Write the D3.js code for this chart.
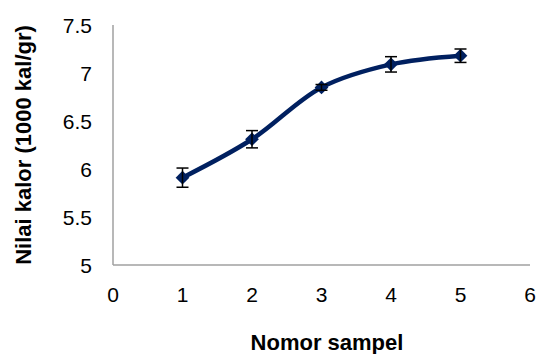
<!DOCTYPE html>
<html>
<head>
<meta charset="utf-8">
<script src="https://cdn.jsdelivr.net/npm/d3@7"></script>
<style>
  body { margin: 0; background: #fff; }
  svg { display: block; font-family: "Liberation Sans", Arial, sans-serif; }
</style>
</head>
<body>
<svg id="chart" width="539" height="354"></svg>
<script>
// data
var samples = [1, 2, 3, 4, 5];
var kalor = [5.91, 6.31, 6.85, 7.09, 7.18];
var errs = [0.10, 0.09, 0.03, 0.08, 0.07];
var xTicks = [0, 1, 2, 3, 4, 5, 6];
var yTicks = [5, 5.5, 6, 6.5, 7, 7.5];

var svg = d3.select('#chart');

var x = d3.scaleLinear().domain([0, 6]).range([113, 530]);
var y = d3.scaleLinear().domain([5, 7.5]).range([265, 25]);

// axes lines
svg.append('line')
    .attr('x1', x(0)).attr('x2', x(0))
    .attr('y1', y(7.5)).attr('y2', y(5))
    .attr('stroke', '#a0a0a0').attr('stroke-width', 1.5);
svg.append('line')
    .attr('x1', x(0)).attr('x2', x(6))
    .attr('y1', y(5)).attr('y2', y(5))
    .attr('stroke', '#a0a0a0').attr('stroke-width', 1.5);

// tick labels
svg.selectAll('.ytick')
    .data(yTicks)
    .enter()
    .append('text')
    .attr('class', 'ytick')
    .attr('x', 92)
    .attr('y', function(d) { return y(d) + 8 })
    .attr('text-anchor', 'end')
    .style('font-size', '21px')
    .text(function(d) { return d });

svg.selectAll('.xtick')
    .data(xTicks)
    .enter()
    .append('text')
    .attr('class', 'xtick')
    .attr('x', function(d) { return x(d) })
    .attr('y', 302)
    .attr('text-anchor', 'middle')
    .style('font-size', '21px')
    .text(function(d) { return d });

// axis titles
svg.append('text')
    .attr('transform', 'translate(31,145) rotate(-90)')
    .attr('text-anchor', 'middle')
    .style('font-size', '22px')
    .style('font-weight', 'bold')
    .text('Nilai kalor (1000 kal/gr)');

svg.append('text')
    .attr('x', 327)
    .attr('y', 350)
    .attr('text-anchor', 'middle')
    .style('font-size', '22px')
    .style('font-weight', 'bold')
    .text('Nomor sampel');

var data = samples.map(function(s, i) {
    return {x: s, y: kalor[i], e: errs[i]}
});

// smoothed line
var line = d3.line()
    .x(function(d) { return x(d.x) })
    .y(function(d) { return y(d.y) })
    .curve(d3.curveCatmullRom);

svg.append('path')
    .datum(data)
    .attr('d', line)
    .attr('fill', 'none')
    .attr('stroke', '#002060')
    .attr('stroke-width', 4.5);

// markers
svg.selectAll('.mark')
    .data(data)
    .enter()
    .append('path')
    .attr('class', 'mark')
    .attr('d', d3.symbol().type(d3.symbolDiamond2).size(120))
    .attr('transform', function(d) { return 'translate(' + x(d.x) + ',' + y(d.y) + ')' })
    .attr('fill', '#002060');

// error bars
var eb = svg.selectAll('.err')
    .data(data)
    .enter()
    .append('g')
    .attr('class', 'err')
    .attr('stroke', '#000')
    .attr('stroke-width', 1.5);

eb.append('line')
    .attr('x1', function(d) { return x(d.x) })
    .attr('x2', function(d) { return x(d.x) })
    .attr('y1', function(d) { return y(d.y + d.e) })
    .attr('y2', function(d) { return y(d.y - d.e) });
eb.append('line')
    .attr('x1', function(d) { return x(d.x) - 6 })
    .attr('x2', function(d) { return x(d.x) + 6 })
    .attr('y1', function(d) { return y(d.y + d.e) })
    .attr('y2', function(d) { return y(d.y + d.e) });
eb.append('line')
    .attr('x1', function(d) { return x(d.x) - 6 })
    .attr('x2', function(d) { return x(d.x) + 6 })
    .attr('y1', function(d) { return y(d.y - d.e) })
    .attr('y2', function(d) { return y(d.y - d.e) });
</script>
</body>
</html>
